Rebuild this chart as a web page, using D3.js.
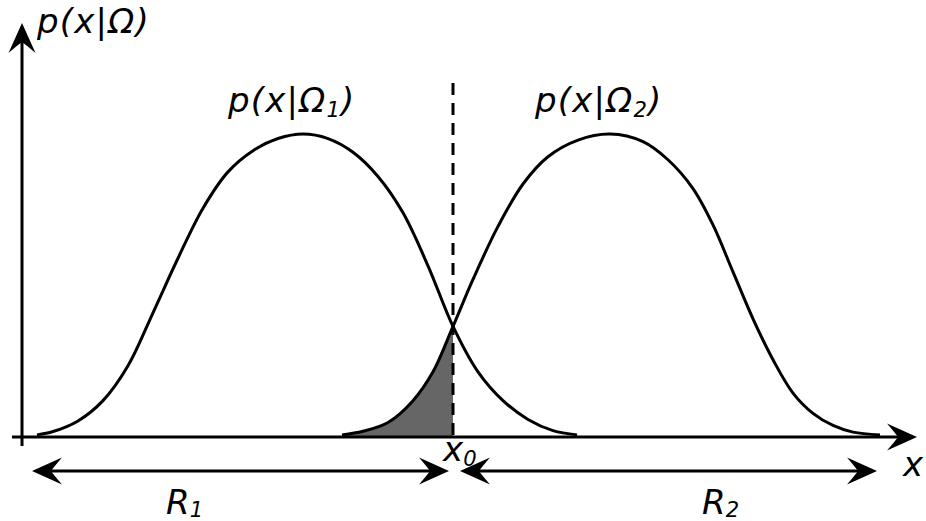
<!DOCTYPE html>
<html>
<head>
<meta charset="utf-8">
<script src="https://cdn.jsdelivr.net/npm/d3@7"></script>
<style>
  html, body { margin: 0; padding: 0; background: #fff; }
  svg { display: block; }
  text { font-family: "DejaVu Sans", Verdana, sans-serif; font-style: italic; fill: #000; }
</style>
</head>
<body>
<svg id="chart" width="926" height="521"></svg>
<script>
// Class-conditional densities p(x|Ω1) and p(x|Ω2), sampled as [x, density]
const omega1 = [
  [-2.66, 0.007], [-2.50, 0.018], [-2.25, 0.053], [-2.00, 0.120], [-1.75, 0.235],
  [-1.50, 0.410], [-1.25, 0.590], [-1.00, 0.755], [-0.75, 0.875], [-0.50, 0.945],
  [-0.25, 0.985], [0.00, 1.000], [0.25, 0.985], [0.50, 0.940], [0.75, 0.860],
  [1.00, 0.740], [1.25, 0.565], [1.50, 0.365], [1.75, 0.215], [2.00, 0.120],
  [2.25, 0.058], [2.50, 0.021], [2.74, 0.007]
];
const omega2 = [
  [0.39, 0.007], [0.60, 0.019], [0.85, 0.048], [1.10, 0.120], [1.30, 0.215],
  [1.50, 0.365], [1.70, 0.520], [1.95, 0.695], [2.20, 0.835], [2.45, 0.925],
  [2.75, 0.980], [3.07, 1.000], [3.40, 0.975], [3.65, 0.915], [3.90, 0.820],
  [4.10, 0.700], [4.30, 0.545], [4.50, 0.390], [4.70, 0.255], [4.90, 0.145],
  [5.10, 0.078], [5.30, 0.038], [5.50, 0.016], [5.77, 0.007]
];
// Decision threshold x0 between the two regions
const threshold = 1.5;

// Text labels
const yLabel = "p(x|Ω)";
const xLabel = "x";
const thresholdLabel = { main: "x", sub: "0" };
const curveLabels = [
  { main: "p(x|Ω", sub: "1", tail: ")", at: 228 },
  { main: "p(x|Ω", sub: "2", tail: ")", at: 535 }
];
const regionLabels = [
  { main: "R", sub: "1", at: 166 },
  { main: "R", sub: "2", at: 702 }
];

const svg = d3.select("#chart");
const x = d3.scaleLinear().domain([-3, 6]).range([3, 903]);
const y = d3.scaleLinear().domain([0, 1]).range([437, 134]);

const STROKE = 3;
const axisY = y(0);
const axisX = 22;
const FONT = 34;

// notched arrowhead pointing along +x, tip at origin
const headPath = "M0,0 L-30,-13.5 Q-21,-3 -19,0 Q-21,3 -30,13.5 Z";
function arrowHead(tx, ty, angle) {
  svg.append("path")
    .attr("d", headPath)
    .attr("transform", `translate(${tx},${ty}) rotate(${angle})`)
    .attr("fill", "#000");
}

const curve = d3.curveCatmullRom.alpha(0.5);

// shaded error area under p(x|Ω2) left of the threshold
svg.append("clipPath").attr("id", "leftOfThreshold")
  .append("rect")
  .attr("x", 0).attr("y", 0)
  .attr("width", x(threshold)).attr("height", axisY);

const area = d3.area()
  .x(d => x(d[0])).y0(axisY).y1(d => y(d[1]))
  .curve(curve);

svg.append("path")
  .datum(omega2)
  .attr("d", area)
  .attr("clip-path", "url(#leftOfThreshold)")
  .attr("fill", "#666");

// density curves
const line = d3.line()
  .x(d => x(d[0])).y(d => y(d[1]))
  .curve(curve);

[omega1, omega2].forEach(series => {
  svg.append("path")
    .datum(series)
    .attr("d", line)
    .attr("fill", "none")
    .attr("stroke", "#000")
    .attr("stroke-width", STROKE);
});

// threshold x0
svg.append("line")
  .attr("x1", x(threshold)).attr("x2", x(threshold))
  .attr("y1", 83).attr("y2", axisY)
  .attr("stroke", "#000")
  .attr("stroke-width", STROKE)
  .attr("stroke-dasharray", "12,8");

// axes
svg.append("line")
  .attr("x1", 12).attr("x2", 900)
  .attr("y1", axisY).attr("y2", axisY)
  .attr("stroke", "#000").attr("stroke-width", STROKE);
arrowHead(917, axisY, 0);

svg.append("line")
  .attr("x1", axisX).attr("x2", axisX)
  .attr("y1", 446).attr("y2", 40)
  .attr("stroke", "#000").attr("stroke-width", STROKE);
arrowHead(axisX, 23, -90);

// decision regions R1 and R2
const regionY = 471;
const regions = [
  [32, x(threshold) - 4],
  [x(threshold) + 7, 877]
];
regions.forEach(([a, b]) => {
  svg.append("line")
    .attr("x1", a + 15).attr("x2", b - 15)
    .attr("y1", regionY).attr("y2", regionY)
    .attr("stroke", "#000").attr("stroke-width", STROKE);
  arrowHead(a, regionY, 180);
  arrowHead(b, regionY, 0);
});

// labels
function label(px, py, parts, spacing) {
  const t = svg.append("text")
    .attr("x", px).attr("y", py)
    .attr("font-size", FONT)
    .attr("letter-spacing", spacing);
  parts.forEach(p => {
    const ts = t.append("tspan").text(p.text);
    if (p.sub) ts.attr("font-size", FONT * 0.62);
    if (p.dy) ts.attr("dy", p.dy);
  });
  return t;
}

label(37, 33, [{ text: yLabel }], 1.2);

curveLabels.forEach(c => {
  label(c.at, 112, [
    { text: c.main },
    { text: c.sub, sub: true, dy: 5 },
    { text: c.tail, dy: -5 }
  ], 1.2);
});

label(443, 461, [{ text: thresholdLabel.main }, { text: thresholdLabel.sub, sub: true, dy: 5 }], 0);
label(903, 476, [{ text: xLabel }], 0);

regionLabels.forEach(r => {
  label(r.at, 514, [{ text: r.main }, { text: r.sub, sub: true, dy: 3 }], 0);
});
</script>
</body>
</html>
